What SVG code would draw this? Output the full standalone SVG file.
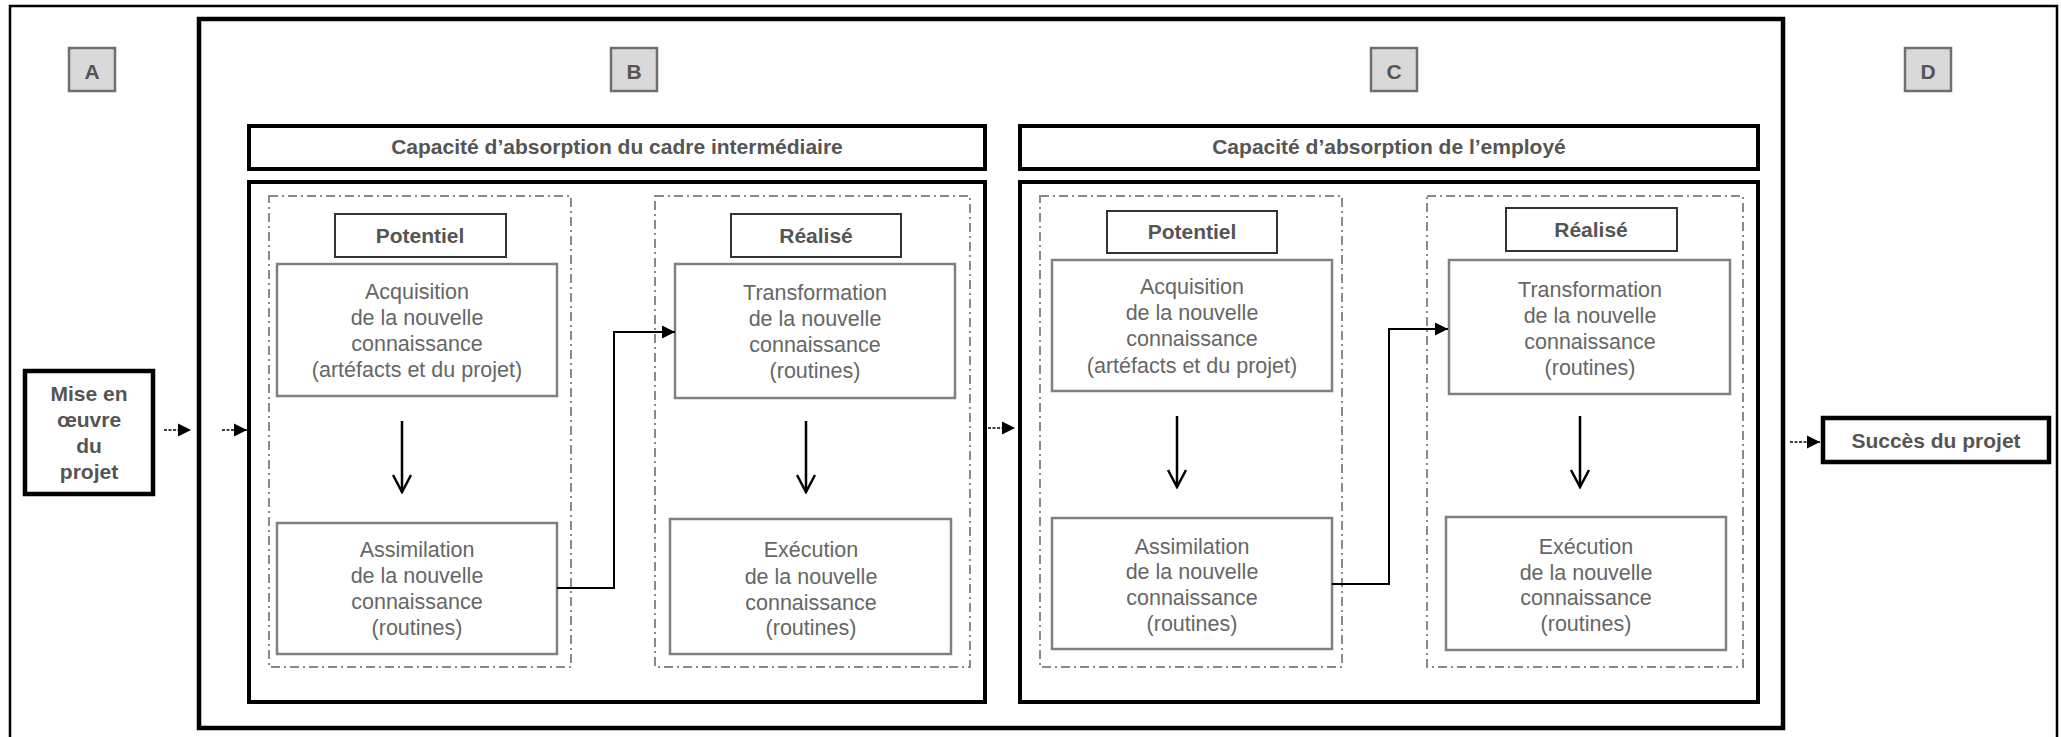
<svg xmlns="http://www.w3.org/2000/svg" width="2061" height="737" viewBox="0 0 2061 737">
  <style>
    .frame { fill: none; stroke: #000; }
    .thick { fill: #fff; stroke: #000; stroke-width: 4.5; }
    .head { fill: #fff; stroke: #000; stroke-width: 4; }
    .zone { fill: none; stroke: #8a8a8a; stroke-width: 2; stroke-dasharray: 9 4 2 4; }
    .tag { fill: #fff; stroke: #333; stroke-width: 2; }
    .box { fill: #fff; stroke: #808080; stroke-width: 2.5; }
    .letter { fill: #d9d9d9; stroke: #6f6f6f; stroke-width: 2.5; }
    .t { font-family: "Liberation Sans", Arial, sans-serif; font-size: 21.5px; fill: #666; text-anchor: middle; }
    .b { font-family: "Liberation Sans", Arial, sans-serif; font-size: 21px; font-weight: bold; fill: #555; text-anchor: middle; }
    .step { fill: none; stroke: #000; stroke-width: 2.5; marker-end: url(#open); }
    .link { fill: none; stroke: #000; stroke-width: 2; marker-end: url(#solid); }
    .flow { fill: none; stroke: #000; stroke-width: 1.5; stroke-dasharray: 3 1.5; marker-end: url(#solid); }
  </style>
  <defs>
    <marker id="open" viewBox="-19 -11 21 22" refX="0" refY="0" markerWidth="21" markerHeight="22" markerUnits="userSpaceOnUse" orient="auto">
      <path d="M-17,-9 L0,0 L-17,9" fill="none" stroke="#000" stroke-width="2.5"/>
    </marker>
    <marker id="solid" viewBox="-14 -7 14 14" refX="0" refY="0" markerWidth="14" markerHeight="14" markerUnits="userSpaceOnUse" orient="auto">
      <path d="M-13,-6.5 L0,0 L-13,6.5 Z" fill="#000"/>
    </marker>
  </defs>

  <rect width="2061" height="737" fill="#fff"/>

  <!-- page border and the B+C enclosure -->
  <path class="frame" stroke-width="2.5" d="M10,745 V6 H2057 V745"/>
  <rect class="frame" stroke-width="4.5" x="199" y="19" width="1584" height="709"/>

  <!-- stage letters -->
  <g id="stage-a"><rect class="letter" x="69" y="48" width="46" height="43"/><text class="b" x="92" y="79" font-size="24">A</text></g>
  <g id="stage-b"><rect class="letter" x="611" y="48" width="46" height="43"/><text class="b" x="634" y="79" font-size="24">B</text></g>
  <g id="stage-c"><rect class="letter" x="1371" y="48" width="46" height="43"/><text class="b" x="1394" y="79" font-size="24">C</text></g>
  <g id="stage-d"><rect class="letter" x="1905" y="48" width="46" height="43"/><text class="b" x="1928" y="79" font-size="24">D</text></g>

  <!-- input and outcome -->
  <g id="mise-en-oeuvre">
    <rect class="thick" x="25" y="371" width="128" height="123"/>
    <text class="b" x="89" y="401" font-size="22">Mise en</text>
    <text class="b" x="89" y="427" font-size="22">œuvre</text>
    <text class="b" x="89" y="453" font-size="22">du</text>
    <text class="b" x="89" y="479" font-size="22">projet</text>
  </g>
  <g id="succes">
    <rect class="thick" x="1823" y="418" width="226" height="44"/>
    <text class="b" x="1936" y="448">Succès du projet</text>
  </g>

  <!-- headers -->
  <g id="header-cadre">
    <rect class="head" x="249" y="126" width="736" height="43"/>
    <text class="b" x="617" y="154">Capacité d’absorption du cadre intermédiaire</text>
  </g>
  <g id="header-employe">
    <rect class="head" x="1020" y="126" width="738" height="43"/>
    <text class="b" x="1389" y="154">Capacité d’absorption de l’employé</text>
  </g>

  <!-- panels -->
  <g id="panel-cadre"><rect class="head" x="249" y="182" width="736" height="520"/></g>
  <g id="panel-employe"><rect class="head" x="1020" y="182" width="738" height="520"/></g>

  <!-- potential / realised zones -->
  <g id="zone-cadre-potentiel">
    <rect class="zone" x="269" y="196" width="302" height="471"/>
    <rect class="tag" x="335" y="214" width="171" height="43"/>
    <text class="b" x="420" y="243">Potentiel</text>
  </g>
  <g id="zone-cadre-realise">
    <rect class="zone" x="655" y="196" width="315" height="471"/>
    <rect class="tag" x="731" y="214" width="170" height="43"/>
    <text class="b" x="816" y="243">Réalisé</text>
  </g>
  <g id="zone-employe-potentiel">
    <rect class="zone" x="1040" y="196" width="302" height="471"/>
    <rect class="tag" x="1107" y="211" width="170" height="42"/>
    <text class="b" x="1192" y="239">Potentiel</text>
  </g>
  <g id="zone-employe-realise">
    <rect class="zone" x="1427" y="196" width="316" height="471"/>
    <rect class="tag" x="1506" y="208" width="171" height="43"/>
    <text class="b" x="1591" y="237">Réalisé</text>
  </g>

  <!-- knowledge steps, middle manager -->
  <g id="cadre-acquisition">
    <rect class="box" x="277" y="264" width="280" height="132"/>
    <text class="t" x="417" y="299">Acquisition</text>
    <text class="t" x="417" y="325">de la nouvelle</text>
    <text class="t" x="417" y="351">connaissance</text>
    <text class="t" x="417" y="377">(artéfacts et du projet)</text>
  </g>
  <g id="cadre-assimilation">
    <rect class="box" x="277" y="523" width="280" height="131"/>
    <text class="t" x="417" y="557">Assimilation</text>
    <text class="t" x="417" y="583">de la nouvelle</text>
    <text class="t" x="417" y="609">connaissance</text>
    <text class="t" x="417" y="635">(routines)</text>
  </g>
  <g id="cadre-transformation">
    <rect class="box" x="675" y="264" width="280" height="134"/>
    <text class="t" x="815" y="300">Transformation</text>
    <text class="t" x="815" y="326">de la nouvelle</text>
    <text class="t" x="815" y="352">connaissance</text>
    <text class="t" x="815" y="378">(routines)</text>
  </g>
  <g id="cadre-execution">
    <rect class="box" x="670" y="519" width="281" height="135"/>
    <text class="t" x="811" y="557">Exécution</text>
    <text class="t" x="811" y="584">de la nouvelle</text>
    <text class="t" x="811" y="610">connaissance</text>
    <text class="t" x="811" y="635">(routines)</text>
  </g>

  <!-- knowledge steps, employee -->
  <g id="employe-acquisition">
    <rect class="box" x="1052" y="260" width="280" height="131"/>
    <text class="t" x="1192" y="294">Acquisition</text>
    <text class="t" x="1192" y="320">de la nouvelle</text>
    <text class="t" x="1192" y="346">connaissance</text>
    <text class="t" x="1192" y="373">(artéfacts et du projet)</text>
  </g>
  <g id="employe-assimilation">
    <rect class="box" x="1052" y="518" width="280" height="131"/>
    <text class="t" x="1192" y="554">Assimilation</text>
    <text class="t" x="1192" y="579">de la nouvelle</text>
    <text class="t" x="1192" y="605">connaissance</text>
    <text class="t" x="1192" y="631">(routines)</text>
  </g>
  <g id="employe-transformation">
    <rect class="box" x="1449" y="260" width="281" height="134"/>
    <text class="t" x="1590" y="297">Transformation</text>
    <text class="t" x="1590" y="323">de la nouvelle</text>
    <text class="t" x="1590" y="349">connaissance</text>
    <text class="t" x="1590" y="375">(routines)</text>
  </g>
  <g id="employe-execution">
    <rect class="box" x="1446" y="517" width="280" height="133"/>
    <text class="t" x="1586" y="554">Exécution</text>
    <text class="t" x="1586" y="580">de la nouvelle</text>
    <text class="t" x="1586" y="605">connaissance</text>
    <text class="t" x="1586" y="631">(routines)</text>
  </g>

  <!-- connectors -->
  <g id="connectors">
    <path class="step" d="M402,421 V492"/>
    <path class="step" d="M806,421 V492"/>
    <path class="step" d="M1177,416 V487"/>
    <path class="step" d="M1580,416 V487"/>
    <path class="link" d="M557,588 H614 V332 H675"/>
    <path class="link" d="M1332,584 H1389 V329 H1448"/>
    <path class="flow" d="M164,430 H191"/>
    <path class="flow" d="M222,430 H247"/>
    <path class="flow" d="M988,428 H1015"/>
    <path class="flow" d="M1790,442 H1820"/>
  </g>
</svg>
